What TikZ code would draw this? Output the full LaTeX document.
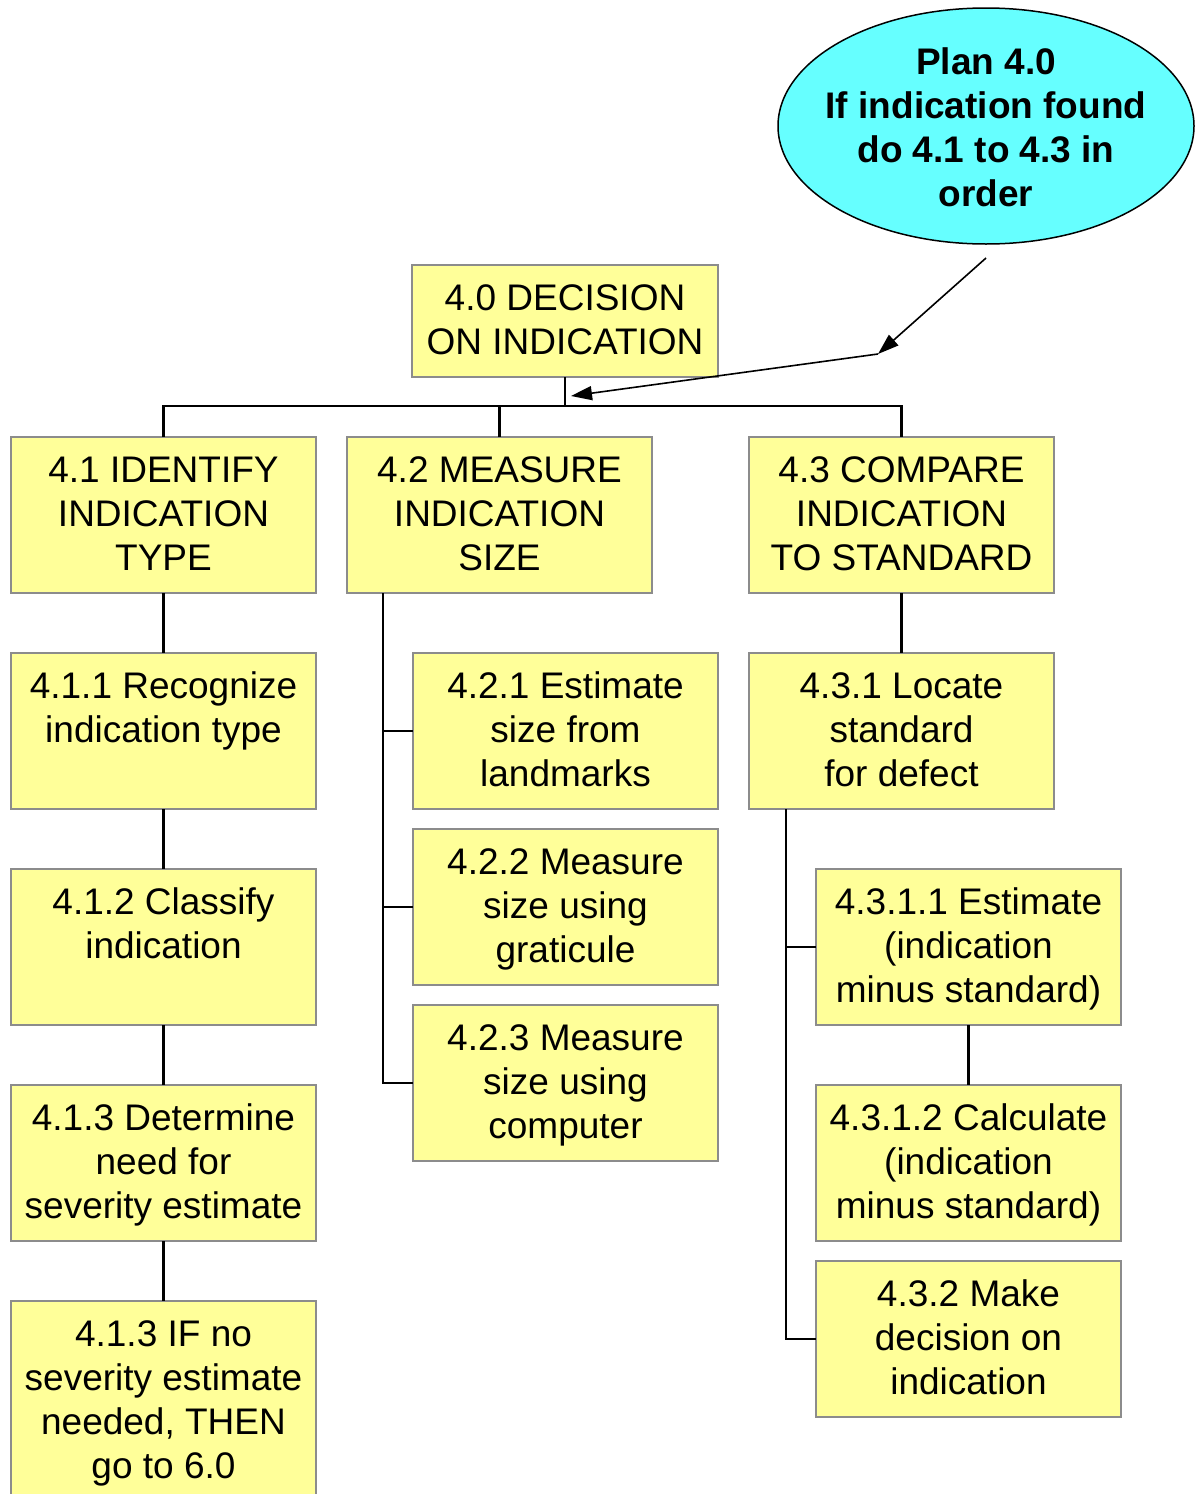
\documentclass[tikz,border=0pt]{standalone}
\usepackage{fontspec}
\setmainfont{Liberation Sans}
\usetikzlibrary{arrows.meta,shapes.geometric}
\definecolor{boxyellow}{RGB}{255,255,153}
\definecolor{boxgray}{RGB}{140,140,140}
\definecolor{plancyan}{RGB}{102,255,255}
\tikzset{
  box/.style={draw=boxgray, fill=boxyellow, line width=2.5pt, inner sep=0pt, outer sep=0pt, anchor=north west},
  conn/.style={line width=2.4pt, black},
  planarrow/.style={line width=1.6pt, black, -{Triangle[length=21pt,width=14pt]}},
}
\newcommand{\boxtext}[3]{\parbox[t][#2pt][t]{#1pt}{\fontsize{37}{44}\selectfont\centering\rule{0pt}{45.5pt}#3\par}}
\begin{document}
\begin{tikzpicture}[x=1pt,y=-1pt]
\useasboundingbox (0,0) rectangle (1198,1494);
% plan ellipse
\node[ellipse, draw=black, line width=1.5pt, fill=plancyan, minimum width=416pt, minimum height=236pt, inner sep=0pt] (plan) at (986,126) {};
\node[align=center, font=\fontsize{37}{44}\selectfont\bfseries] (plantext) at (986,127.5) {Plan 4.0\\If indication found\\do 4.1 to 4.3 in\\order};
% boxes
\node[box] (b40) at (412,265) {\boxtext{306}{112}{4.0 DECISION\\ON INDICATION}};
\node[box] (b41) at (11,437) {\boxtext{305}{156}{4.1 IDENTIFY\\INDICATION\\TYPE}};
\node[box] (b42) at (347,437) {\boxtext{305}{156}{4.2 MEASURE\\INDICATION\\SIZE}};
\node[box] (b43) at (749,437) {\boxtext{305}{156}{4.3 COMPARE\\INDICATION\\TO STANDARD}};
\node[box] (b411) at (11,653) {\boxtext{305}{156}{4.1.1 Recognize\\indication type}};
\node[box] (b412) at (11,869) {\boxtext{305}{156}{4.1.2 Classify\\indication}};
\node[box] (b413) at (11,1085) {\boxtext{305}{156}{4.1.3 Determine\\need for\\severity estimate}};
\node[box] (b413b) at (11,1301) {\boxtext{305}{220}{4.1.3 IF no\\severity estimate\\needed, THEN\\go to 6.0}};
\node[box] (b421) at (413,653) {\boxtext{305}{156}{4.2.1 Estimate\\size from\\landmarks}};
\node[box] (b422) at (413,829) {\boxtext{305}{156}{4.2.2 Measure\\size using\\graticule}};
\node[box] (b423) at (413,1005) {\boxtext{305}{156}{4.2.3 Measure\\size using\\computer}};
\node[box] (b431) at (749,653) {\boxtext{305}{156}{4.3.1 Locate\\standard\\for defect}};
\node[box] (b4311) at (816,869) {\boxtext{305}{156}{4.3.1.1 Estimate\\(indication\\minus standard)}};
\node[box] (b4312) at (816,1085) {\boxtext{305}{156}{4.3.1.2 Calculate\\(indication\\minus standard)}};
\node[box] (b432) at (816,1261) {\boxtext{305}{156}{4.3.2 Make\\decision on\\indication}};
% connectors level 1
\draw[conn] (b40.south) -- ++(0,29) coordinate (j0);
\draw[conn] (b41.north) |- (j0) -| (b43.north);
\draw[conn] (b42.north) -- (b42.north |- j0);
% 4.1 chain
\draw[conn] (b41.south) -- (b411.north);
\draw[conn] (b411.south) -- (b412.north);
\draw[conn] (b412.south) -- (b413.north);
\draw[conn] (b413.south) -- (b413b.north);
% 4.2 branch
\coordinate (t42) at ([xshift=36pt]b42.south west);
\draw[conn] (t42) |- (b423.west);
\draw[conn] (t42 |- b421.west) -- (b421.west);
\draw[conn] (t42 |- b422.west) -- (b422.west);
% 4.3 branch
\draw[conn] (b43.south) -- (b431.north);
\coordinate (t43) at ([xshift=37pt]b431.south west);
\draw[conn] (t43) |- (b432.west);
\draw[conn] (t43 |- b4311.west) -- (b4311.west);
\draw[conn] (b4311.south) -- (b4312.north);
% plan arrows
\coordinate (a0) at (986,258);
\coordinate (a1) at (878,354);
\coordinate (a2) at (571,396);
\draw[planarrow] (a0) -- (a1);
\draw[planarrow] (a1) -- (a2);
\end{tikzpicture}
\end{document}
